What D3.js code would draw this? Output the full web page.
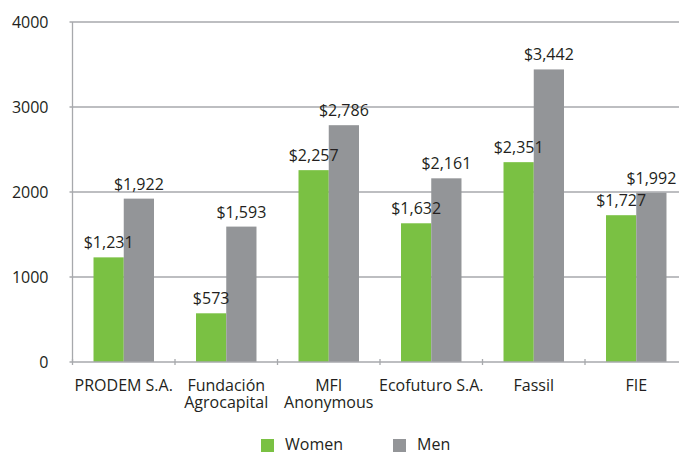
<!DOCTYPE html>
<html>
<head>
<meta charset="utf-8">
<script src="https://cdn.jsdelivr.net/npm/d3@7"></script>
<style>
  body { margin: 0; background: #fff; }
  text { font-family: "Open Sans", "DejaVu Sans", sans-serif; fill: #231f20; }
</style>
</head>
<body>
<div id="chart"></div>
<script>
// Chart data
var categories = ["PRODEM S.A.", "Fundación\nAgrocapital", "MFI\nAnonymous", "Ecofuturo S.A.", "Fassil", "FIE"];
var women = [1231, 573, 2257, 1632, 2351, 1727];
var men = [1922, 1593, 2786, 2161, 3442, 1992];
var seriesNames = ["Women", "Men"];
var yTicks = [0, 1000, 2000, 3000, 4000];

var svgWidth = 679;
var svgHeight = 454;
var margin = { top: 22, left: 72.5 };
var width = 615;
var height = 340;
var colors = ["#7ac143", "#939598"];

var svg = d3.select("#chart")
  .append("svg")
  .attr("width", svgWidth)
  .attr("height", svgHeight);

var chartGroup = svg.append("g")
  .attr("transform", `translate(${margin.left}, ${margin.top})`);

var x0 = d3.scaleBand()
  .domain(categories)
  .range([0, width])
  .paddingInner(0.41)
  .paddingOuter(0.205);

var x1 = d3.scaleBand()
  .domain(seriesNames)
  .range([0, x0.bandwidth()]);

var y = d3.scaleLinear()
  .domain([0, 4000])
  .range([height, 0]);

// gridlines
chartGroup.selectAll(".grid")
  .data(yTicks.slice(1))
  .enter()
  .append("line")
  .attr("x1", -3)
  .attr("x2", svgWidth)
  .attr("y1", d => y(d))
  .attr("y2", d => y(d))
  .attr("stroke", "#a7a9ac")
  .attr("stroke-width", 1.3);

// y tick labels
chartGroup.selectAll(".ylab")
  .data(yTicks)
  .enter()
  .append("text")
  .attr("x", -24)
  .attr("y", d => y(d) + 5.5)
  .attr("text-anchor", "end")
  .style("font-size", "16px")
  .text(d => d);

// bars
var data = categories.map((c, i) => ({ cat: c, vals: [women[i], men[i]] }));

var groups = chartGroup.selectAll(".grp")
  .data(data)
  .enter()
  .append("g")
  .attr("transform", d => `translate(${x0(d.cat)}, 0)`);

groups.selectAll("rect")
  .data(d => d.vals.map((v, j) => ({ key: seriesNames[j], v: v, j: j })))
  .enter()
  .append("rect")
  .attr("x", d => x1(d.key))
  .attr("width", x1.bandwidth())
  .attr("y", d => y(d.v))
  .attr("height", d => height - y(d.v))
  .attr("fill", d => colors[d.j]);

groups.selectAll(".val")
  .data(d => d.vals.map((v, j) => ({ key: seriesNames[j], v: v, j: j })))
  .enter()
  .append("text")
  .attr("x", d => x1(d.key) + x1.bandwidth() / 2)
  .attr("y", d => y(d.v) - 9)
  .attr("text-anchor", "middle")
  .style("font-size", "16px")
  .text(d => "$" + d3.format(",")(d.v));

// axes lines
chartGroup.append("line")
  .attr("x1", 0).attr("x2", 0)
  .attr("y1", 0).attr("y2", height)
  .attr("stroke", "#a7a9ac")
  .attr("stroke-width", 1.3);

chartGroup.append("line")
  .attr("x1", -3).attr("x2", svgWidth)
  .attr("y1", height).attr("y2", height)
  .attr("stroke", "#a7a9ac")
  .attr("stroke-width", 1.3);

// category ticks
chartGroup.selectAll(".ctick")
  .data(categories)
  .enter()
  .append("line")
  .attr("x1", (d, i) => i * width / categories.length)
  .attr("x2", (d, i) => i * width / categories.length)
  .attr("y1", height - 3)
  .attr("y2", height + 3)
  .attr("stroke", "#a7a9ac")
  .attr("stroke-width", 1.3);

// category labels, one text per line
var lineData = [];
categories.forEach(function(c) {
  c.split("\n").forEach(function(line, k) {
    lineData.push({ cat: c, line: line, k: k });
  });
});

chartGroup.selectAll(".clab")
  .data(lineData)
  .enter()
  .append("text")
  .attr("text-anchor", "middle")
  .attr("x", d => x0(d.cat) + x0.bandwidth() / 2)
  .attr("y", d => height + 29 + d.k * 16.5)
  .style("font-size", "16px")
  .text(d => d.line);

// legend
var legendX = [261, 393];
var legend = svg.selectAll(".leg")
  .data(seriesNames)
  .enter()
  .append("g")
  .attr("transform", (d, i) => `translate(${legendX[i]}, 439)`);

legend.append("rect")
  .attr("width", 13)
  .attr("height", 13)
  .attr("fill", (d, i) => colors[i]);

legend.append("text")
  .attr("x", 24)
  .attr("y", 11)
  .style("font-size", "16px")
  .text(d => d);
</script>
</body>
</html>
